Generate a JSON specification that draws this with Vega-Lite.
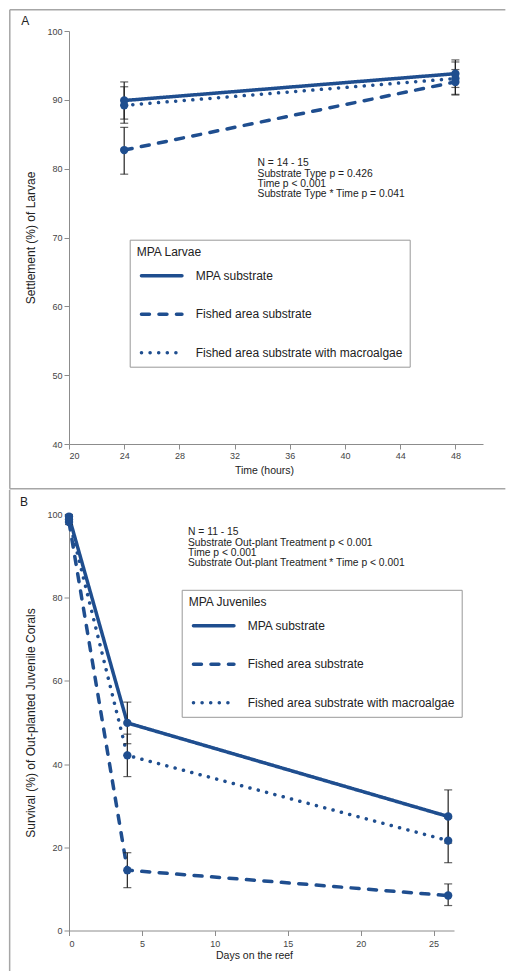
{
  "$schema": "https://vega.github.io/schema/vega-lite/v6.json",
  "padding": {"left": 8, "top": 8, "right": 0, "bottom": 0},
  "spacing": -1.5,
  "config": {
    "font": "Liberation Sans",
    "view": {"stroke": null},
    "axis": {
      "grid": false,
      "domainColor": "#8c8c8c",
      "tickColor": "#8c8c8c",
      "tickSize": 5,
      "labelFontSize": 9,
      "labelColor": "#444",
      "labelPadding": 2,
      "titleFontWeight": "normal",
      "titleColor": "#222"
    }
  },
  "resolve": {"scale": {"strokeDash": "independent"}, "legend": {"strokeDash": "independent"}},
  "vconcat": [
    {
      "width": 414,
      "height": 413,
      "data": {"values": [
        {"treatment": "MPA substrate", "time": 24, "mean": 89.9, "lo": 87.2, "hi": 92.6},
        {"treatment": "MPA substrate", "time": 48, "mean": 93.8, "lo": 91.8, "hi": 95.8},
        {"treatment": "Fished area substrate", "time": 24, "mean": 82.7, "lo": 79.2, "hi": 86.0},
        {"treatment": "Fished area substrate", "time": 48, "mean": 92.6, "lo": 90.8, "hi": 94.4},
        {"treatment": "Fished area substrate with macroalgae", "time": 24, "mean": 89.2, "lo": 86.6, "hi": 91.9},
        {"treatment": "Fished area substrate with macroalgae", "time": 48, "mean": 93.1, "lo": 90.7, "hi": 95.5}
      ]},
      "encoding": {
        "x": {"field": "time", "type": "quantitative", "scale": {"domain": [20, 50], "nice": false, "zero": false},
              "axis": {"values": [20, 24, 28, 32, 36, 40, 44, 48], "title": "Time (hours)", "titleFontSize": 10.5, "titlePadding": 5, "titleX": 195}},
        "y": {"field": "mean", "type": "quantitative", "scale": {"domain": [40, 100], "nice": false, "zero": false},
              "axis": {"values": [40, 50, 60, 70, 80, 90, 100], "title": "Settlement (%) of Larvae", "titleFontSize": 12, "titlePadding": 9}}
      },
      "layer": [
        {
          "mark": {"type": "line", "color": "#1f4e8f", "strokeWidth": 3.5, "strokeCap": "round"},
          "encoding": {
            "strokeDash": {
              "field": "treatment", "type": "nominal",
              "scale": {"domain": ["MPA substrate", "Fished area substrate", "Fished area substrate with macroalgae"],
                        "range": [[1, 0], [8, 9.5], [0.1, 8.5]]},
              "legend": {
                "title": "MPA Larvae", "orient": "none", "legendX": 60.7, "legendY": 208.7,
                "symbolType": "M-4.05,0L4.05,0", "symbolSize": 100, "symbolStrokeWidth": 3.5,
                "symbolStrokeColor": "#1f4e8f", "symbolFillColor": "transparent", "symbolOffset": 18,
                "labelOffset": 27, "labelFontSize": 12, "labelColor": "#222", "labelLimit": 400,
                "titleFontSize": 12, "titleFontWeight": "normal", "titleColor": "#222", "titlePadding": 10,
                "rowPadding": 24.5, "padding": 7, "strokeColor": "#999", "fillColor": "white",
                "encode": {"symbols": {"update": {"strokeCap": {"value": "round"}}}}
              }
            }
          }
        },
        {
          "data": {"values": [{"edge": "top"}, {"edge": "bottom"}]},
          "mark": {"type": "rule", "color": "#a6a6a6", "strokeWidth": 1.5},
          "encoding": {
            "x": {"value": {"expr": "scale('concat_0_x', 15.71)"}},
            "x2": {"value": {"expr": "scale('concat_0_x', 51.62)"}},
            "y": {"value": {"expr": "scale('concat_0_y', datum.edge === 'top' ? 103.09 : 33.5)"}}
          }
        },
        {
          "data": {"values": [{"edge": "left"}]},
          "mark": {"type": "rule", "color": "#a6a6a6", "strokeWidth": 1.5},
          "encoding": {
            "x": {"value": {"expr": "scale('concat_0_x', 15.71)"}},
            "y": {"value": {"expr": "scale('concat_0_y', 103.09)"}},
            "y2": {"value": {"expr": "scale('concat_0_y', 33.5)"}}
          }
        },
        {
          "data": {"values": [{"label": "A"}]},
          "mark": {"type": "text", "fontSize": 12, "color": "#222", "align": "center", "baseline": "middle"},
          "encoding": {
            "text": {"field": "label"},
            "x": {"value": {"expr": "scale('concat_0_x', 16.83)"}},
            "y": {"value": {"expr": "scale('concat_0_y', 101.5)"}}
          }
        },
        {
          "mark": {"type": "rule", "color": "#222", "strokeWidth": 1.2},
          "encoding": {
            "y": {"field": "lo", "type": "quantitative"},
            "y2": {"field": "hi"}
          }
        },
        {
          "mark": {"type": "tick", "color": "#222", "thickness": 1.2, "size": 8, "orient": "horizontal"},
          "encoding": {"y": {"field": "lo", "type": "quantitative"}}
        },
        {
          "mark": {"type": "tick", "color": "#222", "thickness": 1.2, "size": 8, "orient": "horizontal"},
          "encoding": {"y": {"field": "hi", "type": "quantitative"}}
        },
        {
          "mark": {"type": "point", "filled": true, "size": 70, "color": "#1f4e8f", "opacity": 1, "shape": "circle"}
        },
        {
          "data": {"values": [{"note": "N = 14 - 15\nSubstrate Type p = 0.426\nTime p < 0.001\nSubstrate Type * Time p = 0.041"}]},
          "mark": {"type": "text", "align": "left", "baseline": "top", "fontSize": 10.3, "lineHeight": 10.3, "color": "#222", "lineBreak": "\n"},
          "encoding": {
            "text": {"field": "note"},
            "x": {"value": {"expr": "scale('concat_0_x', 33.66)"}},
            "y": {"value": {"expr": "scale('concat_0_y', 81.5)"}}
          }
        }
      ]
    },
    {
      "width": 385,
      "height": 416,
      "data": {"values": [
        {"treatment": "MPA substrate", "day": 0, "mean": 99.5, "lo": 99.0, "hi": 100.0},
        {"treatment": "MPA substrate", "day": 4, "mean": 49.9, "lo": 44.9, "hi": 54.9},
        {"treatment": "MPA substrate", "day": 26, "mean": 27.4, "lo": 21.0, "hi": 33.8},
        {"treatment": "Fished area substrate", "day": 0, "mean": 98.2, "lo": 97.6, "hi": 98.8},
        {"treatment": "Fished area substrate", "day": 4, "mean": 14.5, "lo": 10.3, "hi": 18.7},
        {"treatment": "Fished area substrate", "day": 26, "mean": 8.4, "lo": 6.0, "hi": 11.2},
        {"treatment": "Fished area substrate with macroalgae", "day": 0, "mean": 98.8, "lo": 98.2, "hi": 99.4},
        {"treatment": "Fished area substrate with macroalgae", "day": 4, "mean": 42.1, "lo": 37.0, "hi": 47.2},
        {"treatment": "Fished area substrate with macroalgae", "day": 26, "mean": 21.6, "lo": 16.3, "hi": 27.0}
      ]},
      "encoding": {
        "x": {"field": "day", "type": "quantitative", "scale": {"domain": [0, 26.4], "nice": false, "zero": false},
              "axis": {"values": [0, 5, 10, 15, 20, 25], "title": "Days on the reef", "titleFontSize": 10.5, "labelPadding": 4, "titlePadding": 2, "titleX": 185}},
        "y": {"field": "mean", "type": "quantitative", "scale": {"domain": [0, 100], "nice": false, "zero": false},
              "axis": {"values": [0, 20, 40, 60, 80, 100], "title": "Survival (%) of Out-planted Juvenile Corals", "titleFontSize": 12, "titlePadding": 9}}
      },
      "layer": [
        {
          "mark": {"type": "line", "color": "#1f4e8f", "strokeWidth": 3.5, "strokeCap": "round"},
          "encoding": {
            "strokeDash": {
              "field": "treatment", "type": "nominal",
              "scale": {"domain": ["MPA substrate", "Fished area substrate", "Fished area substrate with macroalgae"],
                        "range": [[1, 0], [8, 9.5], [0.1, 8.5]]},
              "legend": {
                "title": "MPA Juveniles", "orient": "none", "legendX": 112.7, "legendY": 75.3,
                "symbolType": "M-4.05,0L4.05,0", "symbolSize": 100, "symbolStrokeWidth": 3.5,
                "symbolStrokeColor": "#1f4e8f", "symbolFillColor": "transparent", "symbolOffset": 18,
                "labelOffset": 27, "labelFontSize": 12, "labelColor": "#222", "labelLimit": 400,
                "titleFontSize": 12, "titleFontWeight": "normal", "titleColor": "#222", "titlePadding": 10,
                "rowPadding": 24.5, "padding": 7, "strokeColor": "#999", "fillColor": "white",
                "encode": {"symbols": {"update": {"strokeCap": {"value": "round"}}}}
              }
            }
          }
        },
        {
          "data": {"values": [{"edge": "left"}]},
          "mark": {"type": "rule", "color": "#a6a6a6", "strokeWidth": 1.5},
          "encoding": {
            "x": {"value": {"expr": "scale('concat_1_x', -4.07)"}},
            "y": {"value": {"expr": "scale('concat_1_y', 105.94)"}},
            "y2": {"value": {"expr": "scale('concat_1_y', -9.81)"}}
          }
        },
        {
          "data": {"values": [{"label": "B"}]},
          "mark": {"type": "text", "fontSize": 12, "color": "#222", "align": "center", "baseline": "middle"},
          "encoding": {
            "text": {"field": "label"},
            "x": {"value": {"expr": "scale('concat_1_x', -3.09)"}},
            "y": {"value": {"expr": "scale('concat_1_y', 103.05)"}}
          }
        },
        {
          "mark": {"type": "rule", "color": "#222", "strokeWidth": 1.2},
          "encoding": {
            "y": {"field": "lo", "type": "quantitative"},
            "y2": {"field": "hi"}
          }
        },
        {
          "mark": {"type": "tick", "color": "#222", "thickness": 1.2, "size": 8, "orient": "horizontal"},
          "encoding": {"y": {"field": "lo", "type": "quantitative"}}
        },
        {
          "mark": {"type": "tick", "color": "#222", "thickness": 1.2, "size": 8, "orient": "horizontal"},
          "encoding": {"y": {"field": "hi", "type": "quantitative"}}
        },
        {
          "mark": {"type": "point", "filled": true, "size": 70, "color": "#1f4e8f", "opacity": 1, "shape": "circle"}
        },
        {
          "data": {"values": [{"note": "N = 11 - 15\nSubstrate Out-plant Treatment p < 0.001\nTime p < 0.001\nSubstrate Out-plant Treatment * Time p < 0.001"}]},
          "mark": {"type": "text", "align": "left", "baseline": "top", "fontSize": 10.3, "lineHeight": 10.3, "color": "#222", "lineBreak": "\n"},
          "encoding": {
            "text": {"field": "note"},
            "x": {"value": {"expr": "scale('concat_1_x', 8.16)"}},
            "y": {"value": {"expr": "scale('concat_1_y', 96.9)"}}
          }
        }
      ]
    }
  ]
}
